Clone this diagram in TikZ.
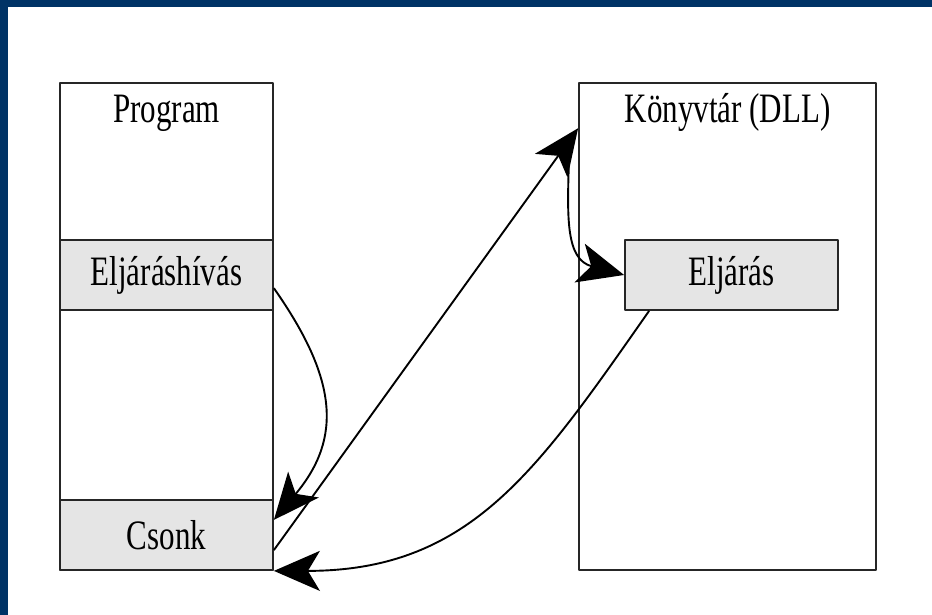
\documentclass[tikz,border=0pt]{standalone}
\usepackage{fontspec}
\setmainfont{Liberation Serif}
\usetikzlibrary{arrows.meta}
\definecolor{keret}{RGB}{0,51,102}
\definecolor{savszin}{RGB}{229,229,229}
\newcommand{\magas}[1]{\scalebox{1}[1.35]{#1}}
\tikzset{
	doboz/.style={draw=black!85, line width=1.8pt, rectangle, inner sep=0pt},
	sav/.style={doboz, fill=savszin, minimum width=213pt, minimum height=70pt},
	nyil/.style={line width=1.9pt, -{Stealth[length=46pt,width=40pt,inset=12pt]}}
}
\begin{document}
\begin{tikzpicture}[x=1pt, y=1pt, line join=round, font=\fontsize{31}{36}\selectfont]
	\useasboundingbox (0,0) rectangle (932,615);
	\fill[keret] (0,608) rectangle (932,615);
	\fill[keret] (0,0) rectangle (8,615);
	\node[doboz, minimum width=213pt, minimum height=487pt] (program) at (166.5,288.5) {};
	\node[doboz, minimum width=297pt, minimum height=487pt] (dll) at (727.5,288.5) {};
	\node[sav] (hivas) at (166.5,340) {\magas{Eljáráshívás}};
	\node[sav] (csonk) at (166.5,80) {\magas{Csonk}};
	\node[sav] (eljaras) at (731.5,340) {\magas{Eljárás}};
	\node[anchor=base] (programcim) at (166.5,492) {\magas{Program}};
	\node[anchor=base] (dllcim) at (727.5,492) {\magas{Könyvtár (DLL)}};
	\coordinate (dllbe) at (569,455);
	\draw[nyil] (csonk.-8) -- (dll.127.5);
	\draw[nyil] (hivas.-7.5) to[out=-55, in=50, looseness=1.2] (csonk.8);
	\draw[nyil] (dllbe) to[out=-92, in=165, looseness=1.2] (eljaras.west);
	\draw[nyil] ([xshift=25pt]eljaras.south west) to[out=-125, in=0, looseness=1.1] (csonk.south east);
\end{tikzpicture}
\end{document}
